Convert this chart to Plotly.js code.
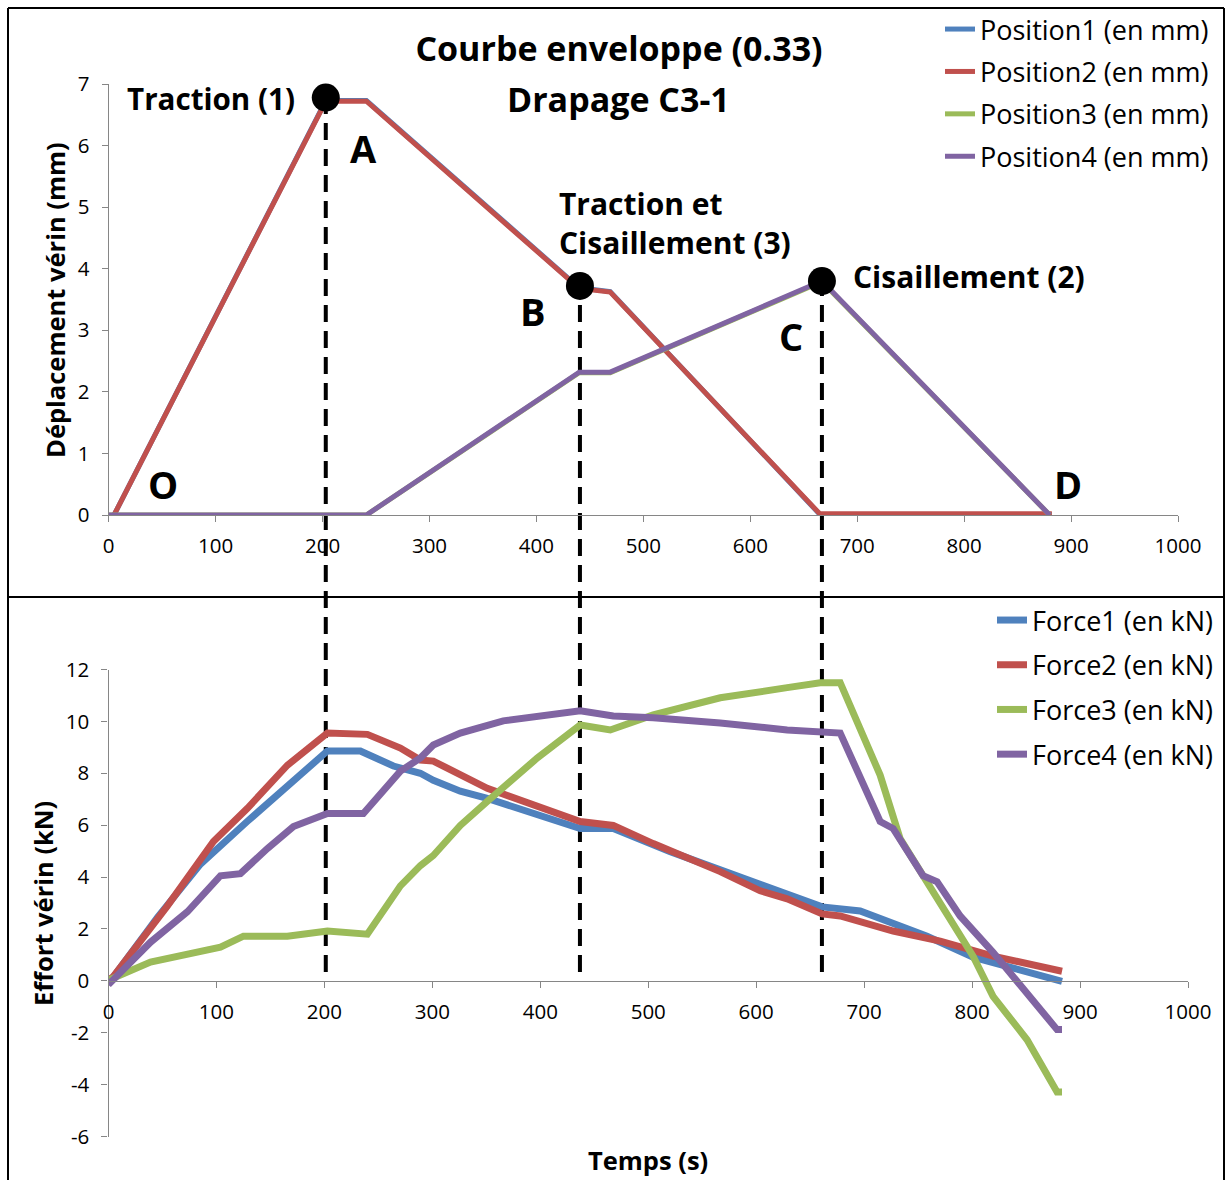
<!DOCTYPE html>
<html>
<head>
<meta charset="utf-8">
<script src="https://cdn.plot.ly/plotly-3.0.1.min.js"></script>
<style>html,body{margin:0;padding:0;background:#fff;}#chart{width:1228px;height:1180px;}</style>
</head>
<body>
<div id="chart"></div>
<script>
// ---------- Data (top panel: displacement, mm) ----------
var pos12Time = [5, 203, 241, 440, 469, 665, 882];
var position1 = [0, 6.73, 6.73, 3.69, 3.63, 0.01, 0.01];
var position2 = [0, 6.72, 6.72, 3.68, 3.62, 0.02, 0.02];
var pos34Time = [0, 241, 440, 469, 667, 880];
var position3 = [0, 0, 2.31, 2.31, 3.79, 0];
var position4 = [0, 0, 2.32, 2.32, 3.80, 0];

// ---------- Data (bottom panel: force, kN) ----------
var force1Time = [0, 4.6, 45.4, 85.2, 128.7, 171.3, 202.8, 233.3, 263.9, 288.9, 300.9, 325.9, 350.9, 437, 467.6, 520.4, 582.4, 603.7, 661.1, 696.3, 714.8, 758.3, 800.9, 850.9, 883.3];
var force1     = [0, 0.15, 2.45, 4.50, 6.15, 7.75, 8.86, 8.86, 8.28, 8.0, 7.73, 7.31, 7.03, 5.87, 5.87, 4.98, 4.05, 3.66, 2.85, 2.69, 2.38, 1.72, 0.91, 0.33, -0.02];
var force2Time = [0, 4.6, 54.6, 97.2, 128.7, 165.7, 202.8, 239.8, 270.4, 288.9, 300.9, 325.9, 350.9, 437, 467.6, 504.6, 566.7, 603.7, 628.7, 661.1, 677.8, 726.9, 770.4, 819.4, 865.7, 883.3];
var force2     = [0, 0.17, 2.89, 5.37, 6.65, 8.31, 9.55, 9.50, 8.97, 8.51, 8.47, 7.93, 7.42, 6.14, 5.99, 5.29, 4.21, 3.47, 3.16, 2.58, 2.50, 1.92, 1.53, 0.95, 0.52, 0.37];
var force3Time = [0, 1.9, 38.9, 85.2, 103.7, 125.0, 165.7, 202.8, 239.8, 270.4, 288.9, 300.9, 325.9, 350.9, 397.2, 437, 464.8, 504.6, 566.7, 628.7, 659.3, 677.8, 714.8, 733.3, 758.3, 776.9, 800.9, 819.4, 850.9, 878.7, 883.3];
var force3     = [0, 0.06, 0.72, 1.14, 1.30, 1.72, 1.72, 1.92, 1.80, 3.66, 4.44, 4.83, 5.99, 6.92, 8.59, 9.86, 9.67, 10.25, 10.91, 11.30, 11.49, 11.49, 7.93, 5.48, 3.82, 2.50, 0.95, -0.60, -2.27, -4.28, -4.28];
var force4Time = [0, 1.9, 38.9, 73.1, 103.7, 122.2, 147.2, 171.3, 202.8, 236.1, 270.4, 288.9, 300.9, 325.9, 365.7, 437, 467.6, 504.6, 566.7, 628.7, 677.8, 714.8, 726.9, 754.6, 767.6, 788.9, 819.4, 850.9, 878.7, 883.3];
var force4     = [0, -0.06, 1.49, 2.66, 4.05, 4.13, 5.10, 5.95, 6.45, 6.45, 8.08, 8.59, 9.09, 9.55, 10.02, 10.41, 10.21, 10.14, 9.94, 9.67, 9.55, 6.14, 5.87, 4.05, 3.82, 2.50, 1.10, -0.45, -1.88, -1.88];

// ---------- Tick labels ----------
var timeTicks = [0, 100, 200, 300, 400, 500, 600, 700, 800, 900, 1000];
var forceTicks = [-6, -4, -2, 0, 2, 4, 6, 8, 10, 12];
var forceTickText = ['-6', '-4', '-2', '0', '2', '4', '6', '8', '10', '12'];

// ---------- Key points (A, B, C) ----------
var pointLabels = ['A', 'B', 'C'];
var pointTime = [203, 440.7, 667];
var pointDisp = [6.78, 3.72, 3.80];

var COLORS = ['#4F81BD', '#C0504D', '#9BBB59', '#8064A2'];
var FONT = '"Open Sans", Lato, "DejaVu Sans", sans-serif';

var W = 1228, H = 1180;
function px(x) { return x / W; }
function py(y) { return 1 - y / H; }

var topXDom = [px(108.7), px(1178)];
var topYDom = [py(515), py(84)];
var botXDom = [px(108.5), px(1188)];
var botYDom = [py(1136.5), py(669.5)];
var topYRange = [0, 7];
var botYRange = [-6, 12];

function line(name, x, y, color, xa, ya, leg, w) {
  return {type: 'scatter', mode: 'lines', name: name, x: x, y: y,
    xaxis: xa, yaxis: ya, legend: leg, legendgroup: name,
    line: {color: color, width: w}, hoverinfo: 'x+y+name'};
}

var traces = [
  line('Position1 (en mm)', pos12Time, position1, COLORS[0], 'x', 'y', 'legend', 5),
  line('Position2 (en mm)', pos12Time, position2, COLORS[1], 'x', 'y', 'legend', 5),
  line('Position3 (en mm)', pos34Time, position3, COLORS[2], 'x', 'y', 'legend', 5),
  line('Position4 (en mm)', pos34Time, position4, COLORS[3], 'x', 'y', 'legend', 5),
  line('Force1 (en kN)', force1Time, force1, COLORS[0], 'x2', 'y2', 'legend2', 7),
  line('Force2 (en kN)', force2Time, force2, COLORS[1], 'x2', 'y2', 'legend2', 7),
  line('Force3 (en kN)', force3Time, force3, COLORS[2], 'x2', 'y2', 'legend2', 7),
  line('Force4 (en kN)', force4Time, force4, COLORS[3], 'x2', 'y2', 'legend2', 7),
  {type: 'scatter', mode: 'markers', x: pointTime, y: pointDisp, xaxis: 'x', yaxis: 'y',
    marker: {color: '#000', size: 28}, showlegend: false, text: pointLabels, hoverinfo: 'text+x+y',
    cliponaxis: false}
];

var shapes = [];
// dashed guide lines from each key point down into the force panel
for (var i = 0; i < pointTime.length; i++) {
  var yTop = topYDom[0] + (pointDisp[i] - topYRange[0]) / (topYRange[1] - topYRange[0]) * (topYDom[1] - topYDom[0]);
  shapes.push({type: 'line', xref: 'x', yref: 'paper', x0: pointTime[i], x1: pointTime[i],
    y0: py(972), y1: yTop, layer: 'below',
    line: {color: '#000', width: 4, dash: '17px,9px'}});
}
// frame and divider
var frame = {color: '#000', width: 2};
shapes.push({type: 'line', xref: 'paper', yref: 'paper', x0: px(8), x1: px(1224), y0: py(8), y1: py(8), line: frame});
shapes.push({type: 'line', xref: 'paper', yref: 'paper', x0: px(8), x1: px(8), y0: py(8), y1: 0, line: frame});
shapes.push({type: 'line', xref: 'paper', yref: 'paper', x0: px(1224), x1: px(1224), y0: py(8), y1: 0, line: frame});
shapes.push({type: 'line', xref: 'paper', yref: 'paper', x0: px(8), x1: px(1224), y0: py(597), y1: py(597), line: frame});

function ann(text, x, y, size, xanchor, extra) {
  var a = {text: text, xref: 'paper', yref: 'paper', x: px(x), y: py(y), showarrow: false,
    xanchor: xanchor || 'center', yanchor: 'middle',
    font: {family: FONT, size: size, color: '#000'}};
  if (extra) for (var k in extra) a[k] = extra[k];
  return a;
}

var annotations = [
  ann('<b>Drapage C3-1</b>', 618, 99, 34),
  ann('<b>Traction (1)</b>', 297, 99, 29.6, 'right'),
  ann('<b>A</b>', 363, 148, 38),
  ann('<b>B</b>', 533, 311, 38),
  ann('<b>C</b>', 791, 336, 38),
  ann('<b>D</b>', 1068, 484, 38),
  ann('<b>O</b>', 163, 484, 38),
  ann('<b>Traction et<br>Cisaillement (3)</b>', 557, 223, 30, 'left', {align: 'left'}),
  ann('<b>Cisaillement (2)</b>', 851, 276, 30, 'left'),
  ann('<b>Déplacement vérin (mm)</b>', 55, 300, 25.5, 'center', {textangle: -90}),
  ann('<b>Effort vérin (kN)</b>', 43, 904, 25.5, 'center', {textangle: -90}),
  ann('<b>Temps (s)</b>', 648, 1160, 25.5)
];

var axisCommon = {showgrid: false, zeroline: false, showline: true, linecolor: '#868686', linewidth: 1.3,
  ticks: 'outside', ticklen: 6, tickwidth: 1.3, tickcolor: '#868686',
  tickfont: {family: FONT, size: 20.5, color: '#000'}, fixedrange: true};
function ax(o) { var r = {}; for (var k in axisCommon) r[k] = axisCommon[k]; for (var k2 in o) r[k2] = o[k2]; return r; }

var layout = {
  width: W, height: H,
  margin: {l: 0, r: 0, t: 0, b: 0},
  paper_bgcolor: '#fff', plot_bgcolor: 'rgba(0,0,0,0)',
  font: {family: FONT, color: '#000'},
  title: {text: '<b>Courbe enveloppe (0.33)</b>', x: px(619), xanchor: 'center', xref: 'paper',
    y: py(49), yanchor: 'middle', yref: 'paper', font: {family: FONT, size: 34, color: '#000'}},
  xaxis: ax({domain: topXDom, range: [0, 1000], tickvals: timeTicks, anchor: 'y', ticklabelstandoff: 6}),
  yaxis: ax({domain: topYDom, range: topYRange, dtick: 1, anchor: 'x', ticklabelstandoff: 8}),
  xaxis2: ax({domain: botXDom, range: [0, 1000], tickvals: timeTicks, anchor: 'free', position: py(980.8), ticklabelstandoff: 6}),
  yaxis2: ax({domain: botYDom, range: botYRange, tickvals: forceTicks, ticktext: forceTickText, anchor: 'x2', ticklabelstandoff: 8}),
  legend: {x: px(940), xanchor: 'left', y: py(5), yanchor: 'top', traceorder: 'grouped', tracegroupgap: 4.3,
    font: {family: FONT, size: 27, color: '#000'}, bgcolor: 'rgba(0,0,0,0)', itemclick: false, itemdoubleclick: false},
  legend2: {x: px(992), xanchor: 'left', y: py(596), yanchor: 'top', traceorder: 'grouped', tracegroupgap: 6.6,
    font: {family: FONT, size: 27, color: '#000'}, bgcolor: 'rgba(0,0,0,0)', itemclick: false, itemdoubleclick: false},
  shapes: shapes,
  annotations: annotations,
  showlegend: true
};

Plotly.newPlot('chart', traces, layout, {displayModeBar: false});
</script>
</body>
</html>
